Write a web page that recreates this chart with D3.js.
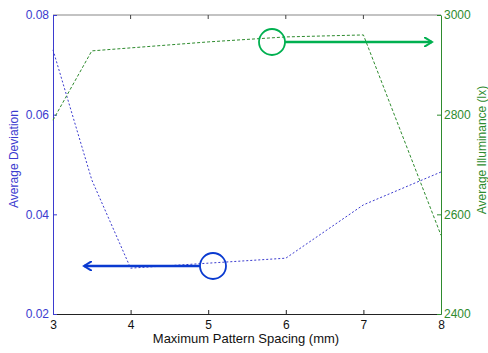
<!DOCTYPE html>
<html>
<head>
<meta charset="utf-8">
<script src="https://d3js.org/d3.v7.min.js"></script>
<style>
body { margin: 0; background: #fff; }
text { font-family: "Liberation Sans", Arial, sans-serif; }
</style>
</head>
<body>
<svg id="chart" width="488" height="353"></svg>
<script>
// data
var spacing = [3, 3.5, 4, 5, 6, 7, 8]
var deviation = [0.073, 0.0469, 0.0292, 0.0302, 0.0312, 0.0419, 0.0485]
var illuminance = [2789, 2928, 2934, 2946, 2956, 2960, 2558]
var xTicks = [3, 4, 5, 6, 7, 8]
var leftTicks = [0.02, 0.04, 0.06, 0.08]
var rightTicks = [2400, 2600, 2800, 3000]

var blue = "#3b3bcf"
var green = "#2e8b2e"

var svg = d3.select("#chart")
var pLeft = 53, pRight = 441, pTop = 15, pBottom = 314

var x = d3.scaleLinear().domain([3, 8]).range([pLeft, pRight])
var yL = d3.scaleLinear().domain([0.02, 0.08]).range([pBottom, pTop])
var yR = d3.scaleLinear().domain([2400, 3000]).range([pBottom, pTop])

// top border
svg.append("line").attr("x1", pLeft).attr("x2", pRight).attr("y1", pTop).attr("y2", pTop)
    .style("stroke", "#888").style("stroke-width", 1.2)

// bottom axis
var xAxis = svg.append("g").attr("transform", "translate(0," + pBottom + ")")
    .call(d3.axisBottom(x).tickValues(xTicks).tickFormat(d3.format("d")).tickSizeInner(-4).tickSizeOuter(0))
xAxis.select(".domain").style("stroke", "#222")
xAxis.selectAll(".tick line").style("stroke", "#222")
xAxis.selectAll("text").attr("dy", "1.1em").attr("y", 2).style("font-size", "12px").style("fill", "#111")
// top ticks
svg.selectAll(".ttick").data(xTicks.slice(1, -1)).enter().append("line")
    .attr("x1", d => x(d)).attr("x2", d => x(d)).attr("y1", pTop).attr("y2", pTop + 4)
    .style("stroke", "#444")

// left axis
var lAxis = svg.append("g").attr("transform", "translate(" + pLeft + ",0)")
    .call(d3.axisLeft(yL).tickValues(leftTicks).tickFormat(d3.format(".2f")).tickSizeInner(-4).tickSizeOuter(0))
lAxis.select(".domain").style("stroke", blue)
lAxis.selectAll(".tick line").style("stroke", blue)
lAxis.selectAll("text").attr("x", -4).style("font-size", "12px").style("fill", blue)

// right axis
var rAxis = svg.append("g").attr("transform", "translate(" + pRight + ",0)")
    .call(d3.axisRight(yR).tickValues(rightTicks).tickFormat(d3.format("d")).tickSizeInner(-4).tickSizeOuter(0))
rAxis.select(".domain").style("stroke", green)
rAxis.selectAll(".tick line").style("stroke", green)
rAxis.selectAll("text").attr("x", 3).style("font-size", "12px").style("fill", green)

// series
svg.append("path").datum(spacing)
    .attr("d", d3.line().x(d => x(d)).y((d, i) => yL(deviation[i])))
    .style("fill", "none").style("stroke", blue).style("stroke-width", 1)
    .style("stroke-dasharray", "2,2")
svg.append("path").datum(spacing)
    .attr("d", d3.line().x(d => x(d)).y((d, i) => yR(illuminance[i])))
    .style("fill", "none").style("stroke", green).style("stroke-width", 1)
    .style("stroke-dasharray", "3,2")

// annotations
var defs = svg.append("defs")
defs.append("marker").attr("id", "ab").attr("viewBox", "0 0 10 10").attr("refX", 8).attr("refY", 5)
    .attr("markerWidth", 4).attr("markerHeight", 4).attr("orient", "auto")
    .append("path").attr("d", "M0,0 L8,5 L0,10").style("fill", "none").style("stroke", "#0a3ad0").style("stroke-width", 2)
defs.append("marker").attr("id", "ag").attr("viewBox", "0 0 10 10").attr("refX", 8).attr("refY", 5)
    .attr("markerWidth", 4).attr("markerHeight", 4).attr("orient", "auto")
    .append("path").attr("d", "M0,0 L8,5 L0,10").style("fill", "none").style("stroke", "#00b050").style("stroke-width", 2)

svg.append("circle").attr("cx", 213).attr("cy", 266).attr("r", 13)
    .style("fill", "none").style("stroke", "#0a3ad0").style("stroke-width", 1.8)
svg.append("line").attr("x1", 200).attr("x2", 84).attr("y1", 266).attr("y2", 266)
    .style("stroke", "#0a3ad0").style("stroke-width", 2.5).attr("marker-end", "url(#ab)")

svg.append("circle").attr("cx", 272).attr("cy", 42).attr("r", 13)
    .style("fill", "none").style("stroke", "#00b050").style("stroke-width", 1.8)
svg.append("line").attr("x1", 285).attr("x2", 432).attr("y1", 42).attr("y2", 42)
    .style("stroke", "#00b050").style("stroke-width", 2.5).attr("marker-end", "url(#ag)")

// axis titles
svg.append("text").attr("x", 246).attr("y", 343).attr("text-anchor", "middle")
    .style("font-size", "13px").style("fill", "#111").text("Maximum Pattern Spacing (mm)")
svg.append("text").attr("transform", "translate(18,159) rotate(-90)")
    .attr("text-anchor", "middle").style("font-size", "12px").style("fill", blue).text("Average Deviation")
svg.append("text").attr("transform", "translate(486,150) rotate(-90)")
    .attr("text-anchor", "middle").style("font-size", "12px").style("fill", green).text("Average Illuminance (lx)")
</script>
</body>
</html>
